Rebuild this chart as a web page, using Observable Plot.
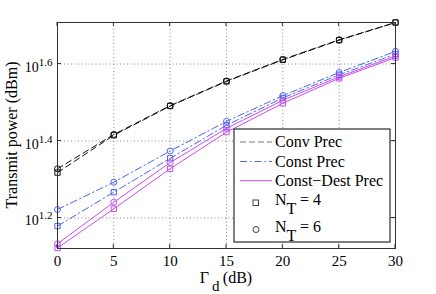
<!DOCTYPE html>
<html><head><meta charset="utf-8">
<script src="https://cdn.jsdelivr.net/npm/d3@7"></script>
<script src="https://cdn.jsdelivr.net/npm/@observablehq/plot@0.6"></script>
<style>body{margin:0;background:#fff} svg, svg text{font-family:"Liberation Serif",serif !important}</style>
</head><body><div id="chart"></div>
<script>
// x values: Γ_d (dB)
const gammaD = [0, 5, 10, 15, 20, 25, 30];
// y values read as log10 of transmit power (axis shows 10^1.2 ...)
const convN4  = [1.318, 1.415, 1.491, 1.555, 1.611, 1.662, 1.708];
const convN6  = [1.328, 1.417, 1.492, 1.556, 1.612, 1.663, 1.708];
const constN4 = [1.179, 1.267, 1.355, 1.441, 1.512, 1.572, 1.626];
const constN6 = [1.222, 1.293, 1.374, 1.451, 1.518, 1.578, 1.633];
const cdN4    = [1.122, 1.224, 1.328, 1.423, 1.498, 1.563, 1.617];
const cdN6    = [1.133, 1.241, 1.344, 1.433, 1.506, 1.567, 1.621];
const yTickExps = [1.2, 1.4, 1.6];
const legendLabels = ["Conv Prec", "Const Prec", "Const\u2212Dest Prec"];

const BLACK = "#111", BLUE = "#4a66f0", MAG = "#c64cf0";
const series = [
  {vals: convN4,  color: BLACK, dash: "6,4",     symbol: "square"},
  {vals: convN6,  color: BLACK, dash: "6,4",     symbol: "circle"},
  {vals: constN4, color: BLUE,  dash: "7,3,1.5,3", symbol: "square"},
  {vals: constN6, color: BLUE,  dash: "7,3,1.5,3", symbol: "circle"},
  {vals: cdN4,    color: MAG,   dash: null,      symbol: "square"},
  {vals: cdN6,    color: MAG,   dash: null,      symbol: "circle"},
];
const tables = series.map(s => s.vals.map((v, i) => ({x: gammaD[i], y: Math.pow(10, v)})));

const FONT = '"Liberation Serif", serif';
const W = 436, H = 294, mL = 57, mR = 41, mT = 22, mB = 46;
const marks = [
  Plot.gridX(gammaD, {stroke: "#8a8a8a", strokeOpacity: 1, strokeDasharray: "1,2.5"}),
  Plot.gridY(yTickExps.map(e => Math.pow(10, e)), {stroke: "#8a8a8a", strokeOpacity: 1, strokeDasharray: "1,2.5"}),
];
series.forEach((s, i) => {
  marks.push(Plot.line(tables[i], {x: "x", y: "y", stroke: s.color, strokeWidth: 1, strokeDasharray: s.dash}));
});
series.forEach((s, i) => {
  marks.push(Plot.dot(tables[i], {x: "x", y: "y", stroke: s.color, fill: "none", symbol: s.symbol, r: 3, strokeWidth: 1}));
});
marks.push(Plot.frame({stroke: "#333", strokeWidth: 1}));
marks.push(Plot.axisX(gammaD, {tickSize: 0, tickPadding: 7, fontSize: 15, fontFamily: FONT, label: null}));
marks.push(Plot.axisY(yTickExps.map(e => Math.pow(10, e)), {tickSize: 0, tickPadding: 5, fontSize: 14, fontFamily: FONT, label: null,
  tickFormat: d => Math.log10(d).toFixed(1)}));

const plot = Plot.plot({
  width: W, height: H, marginLeft: mL, marginRight: mR, marginTop: mT, marginBottom: mB,
  style: {fontFamily: FONT, background: "#fff", color: "#000", overflow: "visible"},
  x: {domain: [0, 30]},
  y: {type: "log", domain: [Math.pow(10, 1.1207), Math.pow(10, 1.708)]},
  marks
});
document.getElementById("chart").appendChild(plot);

const svg = d3.select(plot);
const xs = plot.scale("x"), ys = plot.scale("y");
const x0 = mL, x1 = W - mR, y0 = mT, y1 = H - mB;

// superscript y tick labels
svg.selectAll('g[aria-label="y-axis tick label"] text').each(function () {
  const t = d3.select(this);
  const exp = t.text();
  t.text(null);
  t.append("tspan").attr("dy", "3").text("10");
  t.append("tspan").attr("dy", "-6").attr("font-size", 11).text(exp);
});

// inward ticks
const tk = svg.append("g").attr("stroke", "#333").attr("stroke-width", 1);
gammaD.forEach(v => {
  const px = xs.apply(v);
  tk.append("line").attr("x1", px).attr("x2", px).attr("y1", y1).attr("y2", y1 - 4);
  tk.append("line").attr("x1", px).attr("x2", px).attr("y1", y0).attr("y2", y0 + 4);
});
yTickExps.forEach(e => {
  const py = ys.apply(Math.pow(10, e));
  tk.append("line").attr("x1", x0).attr("x2", x0 + 4).attr("y1", py).attr("y2", py);
  tk.append("line").attr("x1", x1).attr("x2", x1 - 4).attr("y1", py).attr("y2", py);
});

// axis labels
svg.append("text").attr("transform", `translate(11,${(y0 + y1) / 2}) rotate(-90)`)
  .attr("text-anchor", "middle").attr("dy", "0.35em").attr("font-size", 16).attr("fill", "#000")
  .text("Transmit power (dBm)");
const xl = svg.append("text").attr("x", (x0 + x1) / 2).attr("y", 283).attr("text-anchor", "middle")
  .attr("font-size", 16).attr("fill", "#000");
xl.append("tspan").text("\u0393");
xl.append("tspan").attr("dx", 3).attr("dy", 8).attr("font-size", 15).text("d");
xl.append("tspan").attr("dy", -8).text("\u2009(dB)");

// legend
const lg = svg.append("g").attr("text-anchor", "start");
lg.append("rect").attr("x", 234).attr("y", 129).attr("width", 156).attr("height", 113)
  .attr("fill", "#fff").attr("stroke", "#000").attr("stroke-width", 1);
const lgStyles = [
  {color: "#777", dash: "6,3"},
  {color: BLUE, dash: "7,3,1.5,3"},
  {color: MAG, dash: null},
];
const rowY = [142, 161.5, 180.7];
legendLabels.forEach((lab, i) => {
  const ln = lg.append("line").attr("x1", 240).attr("x2", 272).attr("y1", rowY[i]).attr("y2", rowY[i])
    .attr("stroke", lgStyles[i].color).attr("stroke-width", 1);
  if (lgStyles[i].dash) ln.attr("stroke-dasharray", lgStyles[i].dash);
  lg.append("text").attr("x", 275).attr("y", rowY[i] + 5).attr("font-size", 16).attr("fill", "#000")
    .attr("text-anchor", "start").text(lab);
});
lg.append("rect").attr("x", 253).attr("y", 200).attr("width", 5.5).attr("height", 5.5)
  .attr("fill", "none").attr("stroke", "#444");
lg.append("circle").attr("cx", 256).attr("cy", 229.5).attr("r", 3).attr("fill", "none").attr("stroke", "#444");
[["4", 205], ["6", 231.5]].forEach(([n, by]) => {
  const t = lg.append("text").attr("x", 275).attr("y", by).attr("font-size", 16).attr("fill", "#000")
    .attr("text-anchor", "start");
  t.append("tspan").text("N");
  t.append("tspan").attr("dy", 9).text("T");
  t.append("tspan").attr("dy", -9).text(" = " + n);
});
</script>
</body></html>
